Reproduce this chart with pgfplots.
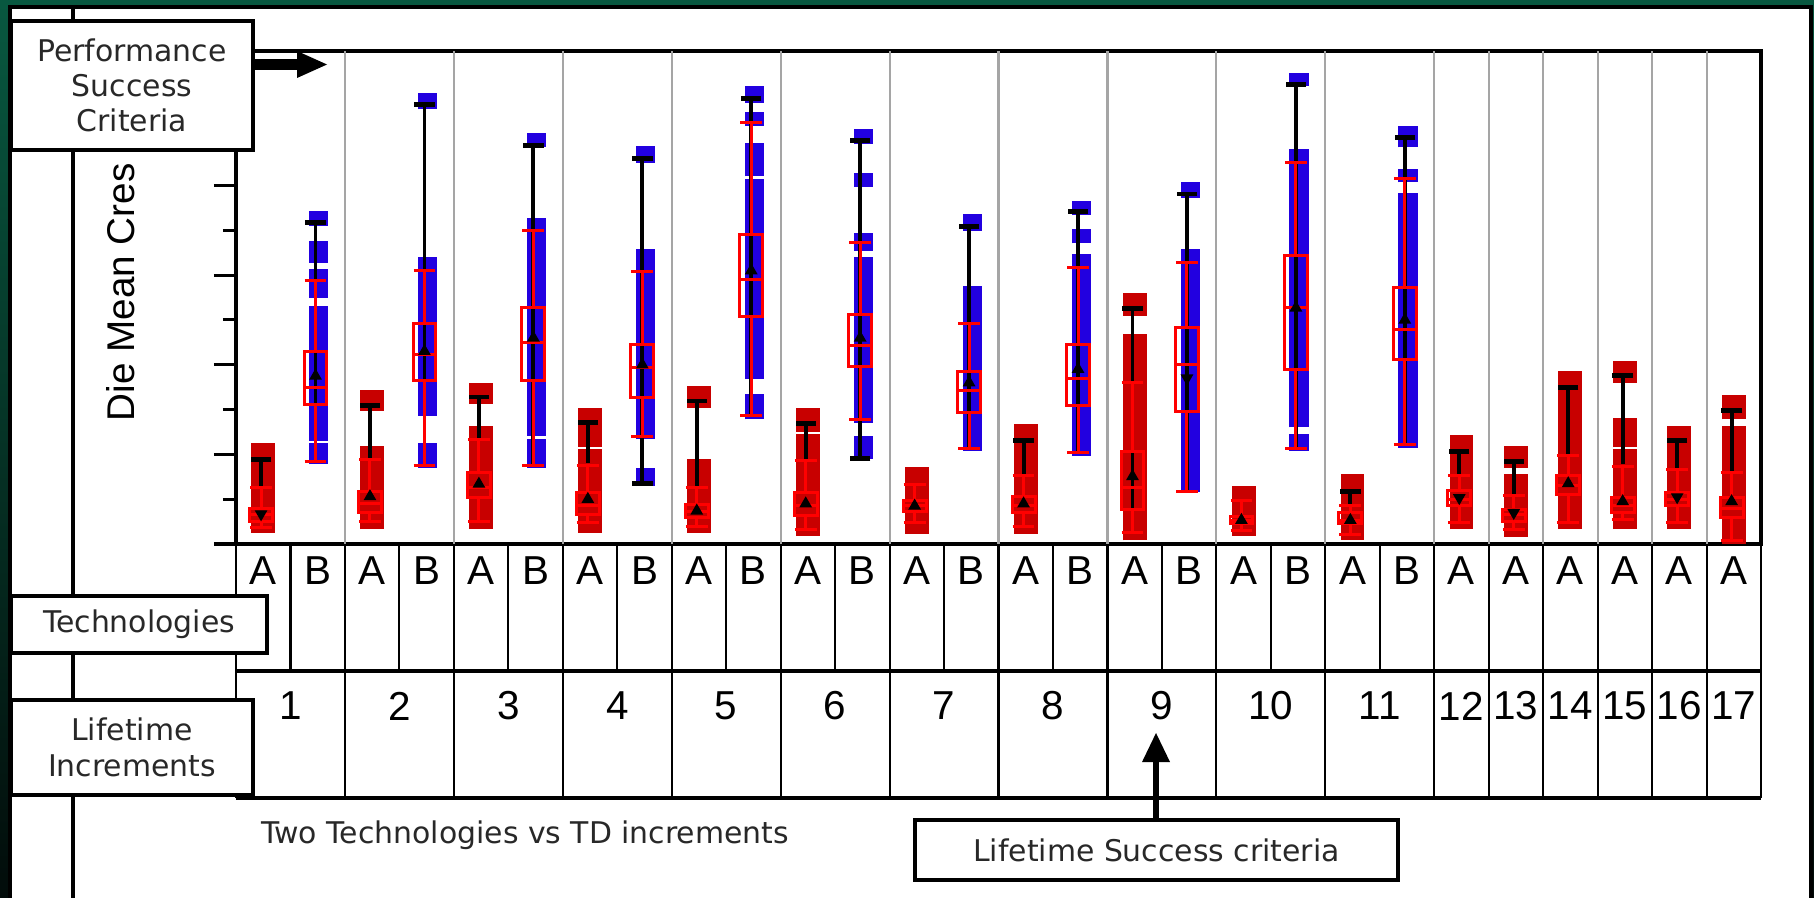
\documentclass[border=0pt]{standalone}
\usepackage{fontspec}
\setmainfont{Liberation Sans}
\newfontfamily\tah{DejaVu Sans}
\usepackage{pgfplots}
\pgfplotsset{compat=1.18}
\usepgfplotslibrary{statistics}
\definecolor{barred}{RGB}{200,0,0}
\definecolor{barblue}{RGB}{34,0,224}
\definecolor{gridc}{RGB}{165,165,165}
\definecolor{bgtop}{RGB}{8,88,64}
\definecolor{bgbot}{RGB}{2,12,10}
\definecolor{lbl}{RGB}{40,40,40}
\newcommand{\bx}[6]{\addplot[red, line width=0.85pt, forget plot, boxplot prepared={draw direction=y, draw position=#1, lower whisker=#2, lower quartile=#3, median=#4, upper quartile=#5, upper whisker=#6}] coordinates {};}
\begin{document}
\begin{tikzpicture}
\useasboundingbox (0,0) rectangle (18.14,8.97);
\shade[top color=bgtop, bottom color=bgbot] (0,0) rectangle (18.14,8.97);
\fill[bgtop] (0,8.88) rectangle (18.14,8.97);
\filldraw[fill=white, draw=black, line width=0.9pt] (0.10,-0.2) rectangle (18.11,8.90);
\draw[black, line width=0.9pt] (0.73,-0.2) -- (0.73,8.90);
\node[rotate=90, anchor=west, inner sep=0pt, font=\fontsize{11}{12}\selectfont] at (1.21,4.75) {Die Mean Cres};
\begin{axis}[
  at={(2.36cm,3.53cm)}, anchor=south west, scale only axis,
  width=15.25cm, height=4.93cm,
  xmin=-0.5, xmax=27.5, ymin=0, ymax=11,
  axis line style={line width=0.9pt, black},
  ytick={0,2,4,6,8,10}, minor ytick={1,3,5,7,9}, yticklabels={},
  ytick pos=left, tick align=outside,
  major tick length=0.22cm, minor tick length=0.13cm,
  tick style={black, line width=0.9pt},
  xtick={0,...,27},
  xticklabels={A,B,A,B,A,B,A,B,A,B,A,B,A,B,A,B,A,B,A,B,A,B,A,A,A,A,A,A},
  major x tick style={draw=none},
  x tick label style={font=\fontsize{11.5}{12}\selectfont, anchor=center, inner sep=0pt, yshift=-0.05cm},
  extra x ticks={0.5,2.5,4.5,6.5,8.5,10.5,12.5,14.5,16.5,18.5,20.5,22,23,24,25,26,27},
  extra x tick labels={1,2,3,4,5,6,7,8,9,10,11,12,13,14,15,16,17},
  extra x tick style={major tick length=0pt, x tick label style={yshift=-1.57cm}},
  boxplot/draw direction=y,
  boxplot/box extend=0.42, boxplot/whisker extend=0.4,
]
% grid lines between increments
\addplot[gridc, line width=0.6pt, forget plot, unbounded coords=jump] table {
x y
1.5 0
1.5 11
1.5 nan
3.5 0
3.5 11
3.5 nan
5.5 0
5.5 11
5.5 nan
7.5 0
7.5 11
7.5 nan
9.5 0
9.5 11
9.5 nan
11.5 0
11.5 11
11.5 nan
13.5 0
13.5 11
13.5 nan
15.5 0
15.5 11
15.5 nan
17.5 0
17.5 11
17.5 nan
19.5 0
19.5 11
19.5 nan
21.5 0
21.5 11
21.5 nan
22.5 0
22.5 11
22.5 nan
23.5 0
23.5 11
23.5 nan
24.5 0
24.5 11
24.5 nan
25.5 0
25.5 11
25.5 nan
26.5 0
26.5 11
};
% technology A (red) filled ranges
\addplot[barred, line width=6.8pt, forget plot, unbounded coords=jump] table {
x y
0 0.25
0 2.26
0 nan
2 0.33
2 2.19
2 nan
2 2.97
2 3.44
2 nan
4 0.33
4 2.63
4 nan
4 3.12
4 3.60
4 nan
6 0.25
6 2.13
6 nan
6 2.17
6 3.04
6 nan
8 0.25
8 1.89
8 nan
8 3.04
8 3.53
8 nan
10 0.18
10 2.46
10 nan
10 2.50
10 3.04
10 nan
12 0.23
12 1.72
12 nan
14 0.23
14 2.67
14 nan
16 0.08
16 4.68
16 nan
16 5.09
16 5.59
16 nan
18 0.18
18 1.29
18 nan
20 0.10
20 1.56
20 nan
22 0.33
22 2.43
22 nan
23 0.16
23 1.56
23 nan
23 1.70
23 2.19
23 nan
24 0.33
24 3.86
24 nan
25 0.33
25 2.12
25 nan
25 2.16
25 2.82
25 nan
25 3.60
25 4.08
25 nan
26 0.33
26 2.63
26 nan
27 0.00
27 2.63
27 nan
27 2.78
27 3.32
};
% technology B (blue) filled ranges
\addplot[barblue, line width=5.5pt, forget plot, unbounded coords=jump] table {
x y
1.02 1.78
1.02 2.25
1.02 nan
1.02 2.30
1.02 5.31
1.02 nan
1.02 5.50
1.02 6.13
1.02 nan
1.02 6.28
1.02 6.76
1.02 nan
1.02 7.10
1.02 7.43
1.02 nan
3.02 1.70
3.02 2.26
3.02 nan
3.02 2.86
3.02 6.41
3.02 nan
3.02 9.70
3.02 10.07
3.02 nan
5.02 1.70
5.02 2.34
5.02 nan
5.02 2.41
5.02 7.28
5.02 nan
5.02 8.85
5.02 9.18
5.02 nan
7.02 1.29
7.02 1.70
7.02 nan
7.02 2.34
7.02 6.58
7.02 nan
7.02 8.51
7.02 8.88
7.02 nan
9.02 2.78
9.02 3.35
9.02 nan
9.02 3.68
9.02 8.14
9.02 nan
9.02 8.21
9.02 8.94
9.02 nan
9.02 9.33
9.02 9.65
9.02 nan
9.02 9.85
9.02 10.22
9.02 nan
11.02 1.89
11.02 2.41
11.02 nan
11.02 2.71
11.02 6.41
11.02 nan
11.02 6.54
11.02 6.95
11.02 nan
11.02 7.97
11.02 8.27
11.02 nan
11.02 8.92
11.02 9.26
11.02 nan
13.02 2.08
13.02 5.76
13.02 nan
13.02 6.99
13.02 7.36
13.02 nan
15.02 1.96
15.02 6.47
15.02 nan
15.02 6.71
15.02 7.02
15.02 nan
15.02 7.34
15.02 7.66
15.02 nan
17.02 1.15
17.02 6.58
17.02 nan
17.02 7.73
17.02 8.07
17.02 nan
19.02 2.08
19.02 2.45
19.02 nan
19.02 2.60
19.02 8.81
19.02 nan
19.02 10.22
19.02 10.52
19.02 nan
21.02 2.15
21.02 7.84
21.02 nan
21.02 8.07
21.02 8.36
21.02 nan
21.02 8.85
21.02 9.33
};
% black whiskers
\addplot[black, line width=1.1pt, forget plot, unbounded coords=jump] table {
x y
-0.04 1.29
-0.04 1.89
-0.04 nan
0.96 1.80
0.96 7.17
0.96 nan
1.96 1.93
1.96 3.10
1.96 nan
2.96 1.76
2.96 9.80
2.96 nan
3.96 2.37
3.96 3.28
3.96 nan
4.96 1.76
4.96 8.90
4.96 nan
5.96 1.81
5.96 2.71
5.96 nan
6.96 1.35
6.96 8.61
6.96 nan
7.96 1.29
7.96 3.19
7.96 nan
8.96 2.86
8.96 9.93
8.96 nan
9.96 1.89
9.96 2.69
9.96 nan
10.96 1.91
10.96 9.00
10.96 nan
12.96 2.14
12.96 7.08
12.96 nan
13.96 1.56
13.96 2.31
13.96 nan
14.96 2.04
14.96 7.42
14.96 nan
15.96 0.80
15.96 5.26
15.96 nan
16.96 1.17
16.96 7.81
16.96 nan
18.96 2.14
18.96 10.26
18.96 nan
19.96 0.86
19.96 1.17
19.96 nan
20.96 2.21
20.96 9.06
20.96 nan
21.96 1.56
21.96 2.06
21.96 nan
22.96 1.12
22.96 1.85
22.96 nan
23.96 2.00
23.96 3.49
23.96 nan
24.96 1.78
24.96 3.75
24.96 nan
25.96 1.66
25.96 2.31
25.96 nan
26.96 1.59
26.96 2.97
};
\addplot[black, only marks, mark=-, mark size=2.9pt, mark options={line width=1.4pt}, forget plot] table {
x y
-0.04 1.89
0.96 7.17
1.96 3.10
2.96 9.80
3.96 3.28
4.96 8.90
5.96 2.71
6.96 8.61
6.96 1.35
7.96 3.19
8.96 9.93
9.96 2.69
10.96 9.00
10.96 1.91
12.96 7.08
13.96 2.31
14.96 7.42
15.96 5.26
16.96 7.81
18.96 10.26
19.96 1.17
20.96 9.06
21.96 2.06
22.96 1.85
23.96 3.49
24.96 3.75
25.96 2.31
26.96 2.97
};
% red box plots: position, lower whisker, Q1, median, Q3, upper whisker
\bx{-0.04}{0.36}{0.50}{0.65}{0.80}{1.26}
\bx{0.96}{1.85}{3.12}{3.50}{4.29}{5.89}
\bx{1.96}{0.51}{0.70}{0.90}{1.17}{1.89}
\bx{2.96}{1.76}{3.64}{4.23}{4.92}{6.11}
\bx{3.96}{0.51}{1.03}{1.25}{1.59}{2.34}
\bx{4.96}{1.76}{3.64}{4.49}{5.27}{6.99}
\bx{5.96}{0.48}{0.66}{0.85}{1.15}{1.76}
\bx{6.96}{2.39}{3.27}{3.94}{4.46}{6.08}
\bx{7.96}{0.40}{0.59}{0.72}{0.89}{1.26}
\bx{8.96}{2.86}{5.07}{5.91}{6.91}{9.40}
\bx{9.96}{0.33}{0.63}{0.85}{1.15}{1.86}
\bx{10.96}{2.78}{3.97}{4.44}{5.11}{6.73}
\bx{11.96}{0.48}{0.72}{0.85}{0.98}{1.33}
\bx{12.96}{2.14}{2.93}{3.43}{3.84}{4.92}
\bx{13.96}{0.40}{0.70}{0.85}{1.07}{1.52}
\bx{14.96}{2.04}{3.10}{3.70}{4.46}{6.18}
\bx{15.96}{0.25}{0.77}{1.26}{2.06}{3.60}
\bx{16.96}{1.17}{2.95}{4.01}{4.84}{6.28}
\bx{17.96}{0.30}{0.45}{0.53}{0.62}{0.97}
\bx{18.96}{2.14}{3.90}{5.27}{6.43}{8.51}
\bx{19.96}{0.21}{0.45}{0.53}{0.70}{0.86}
\bx{20.96}{2.21}{4.12}{4.79}{5.72}{8.15}
\bx{21.96}{0.48}{0.85}{1.00}{1.20}{1.52}
\bx{22.96}{0.33}{0.50}{0.65}{0.76}{1.08}
\bx{23.96}{0.48}{1.11}{1.30}{1.52}{1.98}
\bx{24.96}{0.55}{0.70}{0.85}{1.04}{1.74}
\bx{25.96}{0.48}{0.87}{1.00}{1.16}{1.66}
\bx{26.96}{0.07}{0.60}{0.80}{1.04}{1.59}
% mean markers
\addplot[black, only marks, mark=triangle*, mark size=1.7pt, forget plot] table {
x y
0.96 3.75
1.96 1.06
2.96 4.30
3.96 1.34
4.96 4.60
5.96 1.00
6.96 4.00
7.96 0.74
8.96 6.10
9.96 0.90
10.96 4.60
11.96 0.85
12.96 3.60
13.96 0.90
14.96 3.90
15.96 1.51
17.96 0.53
18.96 5.27
19.96 0.53
20.96 5.00
23.96 1.35
24.96 0.95
26.96 0.95
};
\addplot[black, only marks, mark=triangle*, mark size=1.7pt, mark options={rotate=180}, forget plot] table {
x y
-0.04 0.67
16.96 3.70
21.96 1.03
22.96 0.70
25.96 1.05
};
\end{axis}
% category table lines
\foreach \j in {0,...,28} \draw[line width=0.6pt] ({2.36+\j*0.54464},2.26) -- ({2.36+\j*0.54464},3.53);
\foreach \j in {0,2,4,6,8,10,12,14,16,18,20,22,23,24,25,26,27,28} \draw[line width=0.6pt] ({2.36+\j*0.54464},0.99) -- ({2.36+\j*0.54464},2.26);
\draw[line width=1pt] (2.36,2.26) -- (17.61,2.26);
\draw[line width=1pt] (2.36,0.99) -- (17.61,0.99);
% annotation boxes
\filldraw[fill=white, draw=black, line width=1pt] (0.11,7.47) rectangle (2.53,8.76);
\node[align=center, text=lbl, font=\tah\fontsize{8.5}{9.9}\selectfont] at (1.32,8.115) {Performance\\Success\\Criteria};
\fill[black] (2.53,8.27) rectangle (3.00,8.38);
\fill[black] (2.97,8.46) -- (3.27,8.325) -- (2.97,8.19) -- cycle;
\filldraw[fill=white, draw=black, line width=1pt] (0.11,2.44) rectangle (2.67,3.01);
\node[text=lbl, font=\tah\fontsize{8.5}{9.9}\selectfont] at (1.39,2.725) {Technologies};
\filldraw[fill=white, draw=black, line width=1pt] (0.11,1.02) rectangle (2.53,1.97);
\node[align=center, text=lbl, font=\tah\fontsize{8.5}{10.2}\selectfont] at (1.32,1.495) {Lifetime\\Increments};
\filldraw[fill=white, draw=black, line width=1pt] (9.15,0.17) rectangle (13.98,0.77);
\node[text=lbl, font=\tah\fontsize{8.5}{9.9}\selectfont] at (11.565,0.47) {Lifetime Success criteria};
\fill[black] (11.53,0.77) rectangle (11.59,1.37);
\fill[black] (11.42,1.35) -- (11.56,1.64) -- (11.70,1.35) -- cycle;
\node[text=lbl, font=\tah\fontsize{8.5}{9.9}\selectfont] at (5.25,0.62) {Two Technologies vs TD increments};
\end{tikzpicture}
\end{document}
